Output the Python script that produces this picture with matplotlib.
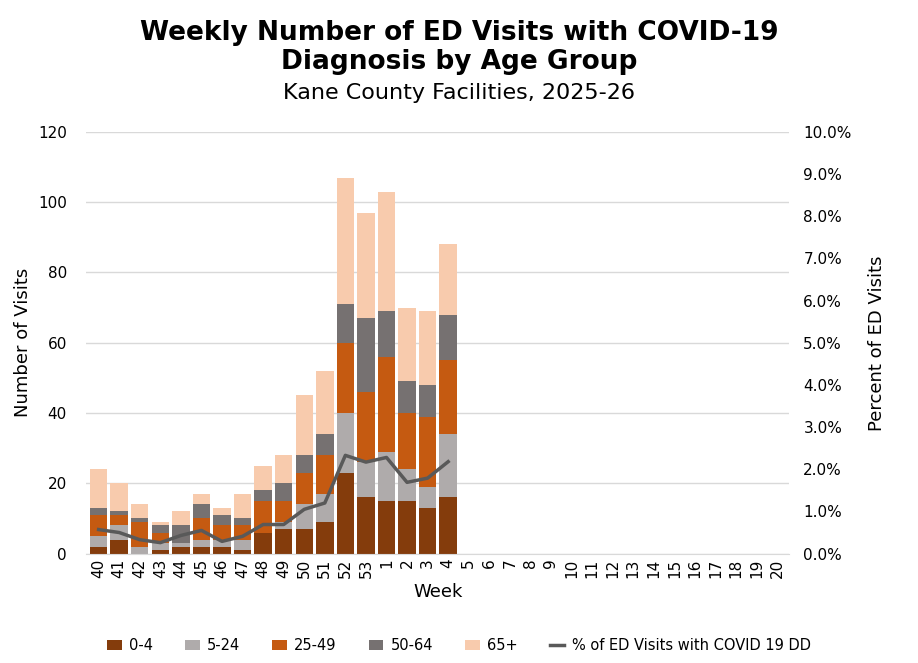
import matplotlib
matplotlib.use("Agg")
import matplotlib.pyplot as plt
import numpy as np
from matplotlib.ticker import PercentFormatter

weeks = ["40","41","42","43","44","45","46","47","48","49","50","51","52","53",
         "1","2","3","4","5","6","7","8","9","10","11","12","13","14","15","16","17","18","19","20"]
age_0_4  = [2,4,0,1,2,2,2,1,6,7,7,9,23,16,15,15,13,16]
age_5_24 = [3,4,2,2,1,2,2,3,0,2,7,8,17,10,14,9,6,18]
age_25_49= [6,3,7,3,0,6,4,4,9,6,9,11,20,20,27,16,20,21]
age_50_64= [2,1,1,2,5,4,3,2,3,5,5,6,11,21,13,9,9,13]
age_65p  = [11,8,4,1,4,3,2,7,7,8,17,18,36,30,34,21,21,20]
pct      = [0.57,0.50,0.33,0.26,0.43,0.55,0.29,0.41,0.69,0.69,1.05,1.20,2.33,2.17,2.28,1.69,1.79,2.18]

series = [("0-4", age_0_4, "#843c0c"), ("5-24", age_5_24, "#afabab"),
          ("25-49", age_25_49, "#c55a11"), ("50-64", age_50_64, "#767171"),
          ("65+", age_65p, "#f8cbad")]

fig = plt.figure(figsize=(9.18, 6.63), dpi=100)
ax = fig.add_axes([0.094, 0.165, 0.766, 0.636])
n = len(age_0_4)
x = np.arange(n)
bottom = np.zeros(n)
for name, vals, col in series:
    ax.bar(x, vals, 0.85, bottom=bottom, color=col, label=name, zorder=2)
    bottom += np.array(vals)
ax.set_xlim(-0.6, len(weeks) - 0.4)
ax.set_ylim(0, 120)
ax.set_yticks(range(0, 121, 20))
ax.set_xticks(range(len(weeks)))
ax.set_xticklabels(weeks, rotation=90, fontsize=11)
ax.tick_params(axis="y", labelsize=11, length=0, pad=14)
ax.tick_params(axis="x", length=0)
ax.grid(axis="y", color="#d9d9d9", lw=1, zorder=0)
for s in ["top", "right", "left"]:
    ax.spines[s].set_visible(False)
ax.spines["bottom"].set_color("#d9d9d9")
ax.set_ylabel("Number of Visits", fontsize=13)
ax.set_xlabel("Week", fontsize=13)

ax2 = ax.twinx()
ln, = ax2.plot(x, np.array(pct) / 100, color="#595959", lw=2.5, label="% of ED Visits with COVID 19 DD")
ax2.set_ylim(0, 0.10)
ax2.set_yticks(np.arange(0, 0.1001, 0.01))
ax2.yaxis.set_major_formatter(PercentFormatter(1.0, decimals=1))
ax2.tick_params(axis="y", labelsize=11, length=0, pad=10)
for s in ax2.spines.values():
    s.set_visible(False)
ax2.set_ylabel("Percent of ED Visits", fontsize=13, labelpad=12)

fig.text(0.5, 0.97, "Weekly Number of ED Visits with COVID-19\nDiagnosis by Age Group",
         ha="center", va="top", fontsize=19, fontweight="heavy", linespacing=1.15)
fig.text(0.5, 0.875, "Kane County Facilities, 2025-26", ha="center", va="top", fontsize=16)

h, l = ax.get_legend_handles_labels()
fig.legend(h + [ln], l + [ln.get_label()], loc="lower center", ncol=6, frameon=False,
           fontsize=10.5, bbox_to_anchor=(0.5, -0.005), handlelength=1.0, columnspacing=2.2,
           handletextpad=0.5)
fig.savefig("out.png", dpi=100)
